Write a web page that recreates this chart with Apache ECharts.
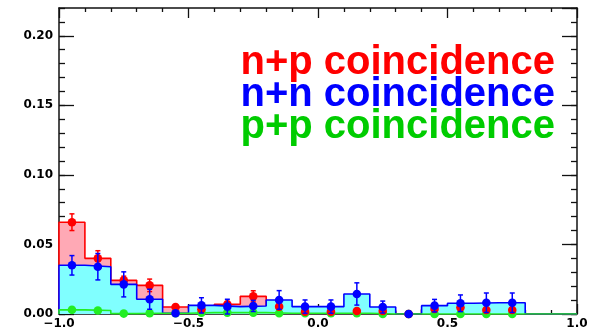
<!DOCTYPE html>
<html>
<head>
<meta charset="utf-8">
<script src="https://cdn.jsdelivr.net/npm/echarts@6/dist/echarts.min.js"></script>
<style>
  html, body { margin: 0; padding: 0; background: #fff; }
  #chart { width: 595px; height: 332px; }
</style>
</head>
<body>
<div id="chart"></div>
<script>
// cos(theta) bin centres (bin width 0.1 over [-1, 1])
const binCenters = [-0.95, -0.85, -0.75, -0.65, -0.55, -0.45, -0.35, -0.25, -0.15, -0.05,
                     0.05,  0.15,  0.25,  0.35,  0.45,  0.55,  0.65,  0.75,  0.85,  0.95];
const binWidth = 0.1;

// normalised yields per bin (null = no marker drawn)
const npValues = [0.066, 0.040, 0.0242, 0.0206, 0.005, 0.0034, 0.007, 0.0127, 0.0053, 0.0017,
                  0.0017, 0.0022, 0.0022, 0, 0.0036, 0.0046, 0.0029, 0.0029, null, null];
const npErrors = [0.006, 0.0055, 0.003, 0.0045, 0.0015, 0.0015, 0.002, 0.004, 0.002, 0.001,
                  0.001, 0.0012, 0.0012, 0, 0.0015, 0.0018, 0.0015, 0.0015, 0, 0];

const nnValues = [0.035, 0.034, 0.0213, 0.0106, 0.0005, 0.0062, 0.0053, 0.0058, 0.0101, 0.0053,
                  0.0053, 0.0144, 0.005, 0, 0.006, 0.0077, 0.0081, 0.0081, null, null];
const nnErrors = [0.007, 0.0095, 0.009, 0.0072, 0.001, 0.0055, 0.0053, 0.004, 0.0067, 0.0048,
                  0.0048, 0.008, 0.0043, 0, 0.0045, 0.006, 0.007, 0.007, 0, 0];

const ppValues = [0.003, 0.0025, 0.0003, 0.0005, 0.0005, 0.001, 0.001, 0.001, 0.0005, 0.0005,
                  0.0005, 0.0005, 0, 0, 0, 0, 0, 0, null, null];
const ppErrors = [0, 0, 0, 0, 0, 0, 0, 0, 0, 0, 0, 0, 0, 0, 0, 0, 0, 0, 0, 0];

const xTickLabels = ['\u22121.0', '\u22120.5', '0.0', '0.5', '1.0'];
const yTickLabels = ['0.00', '0.05', '0.10', '0.15', '0.20'];
const legendLines = ['n+p coincidence', 'n+n coincidence', 'p+p coincidence'];

const RED = '#ff0000', BLUE = '#0000ff', GREEN = '#22ee22', TEXT_GREEN = '#00cc00';
const PINK_FILL = '#ffa9b5', CYAN_FILL = '#80ffff';
const TICK_FONT = 'DejaVu Sans';

// step outline of a histogram as edge points
function histPoints(values) {
  const pts = [[binCenters[0] - binWidth / 2, 0]];
  values.forEach((v, i) => {
    const y = v == null ? 0 : v;
    pts.push([binCenters[i] - binWidth / 2, y]);
    pts.push([binCenters[i] + binWidth / 2, y]);
  });
  pts.push([binCenters[binCenters.length - 1] + binWidth / 2, 0]);
  return pts;
}

function histSeries(name, values, color, fill, z) {
  return {
    type: 'line', name, data: histPoints(values), showSymbol: false, silent: true,
    lineStyle: { color, width: 1.6 },
    areaStyle: fill ? { color: fill, opacity: 1 } : undefined,
    z, animation: false
  };
}

function pointSeries(name, values, errors, color, z) {
  const data = [];
  values.forEach((v, i) => { if (v != null) data.push([binCenters[i], v, errors[i]]); });
  return {
    type: 'custom', name, data, z, animation: false, silent: true,
    renderItem(params, api) {
      const x = api.value(0), v = api.value(1), e = api.value(2);
      const c = api.coord([x, v]);
      const children = [];
      if (e > 0) {
        const hi = api.coord([x, v + e]), lo = api.coord([x, v - e]);
        const st = { stroke: color, lineWidth: 1.5 };
        children.push({ type: 'line', shape: { x1: c[0], y1: hi[1], x2: c[0], y2: lo[1] }, style: st });
        children.push({ type: 'line', shape: { x1: c[0] - 2.5, y1: hi[1], x2: c[0] + 2.5, y2: hi[1] }, style: st });
        children.push({ type: 'line', shape: { x1: c[0] - 2.5, y1: lo[1], x2: c[0] + 2.5, y2: lo[1] }, style: st });
      }
      children.push({ type: 'circle', shape: { cx: c[0], cy: c[1], r: 4.3 }, style: { fill: color } });
      return { type: 'group', children };
    }
  };
}

const xLabelFmt = v => xTickLabels[Math.round((v + 1) / 0.5)] || '';
const yLabelFmt = v => yTickLabels[Math.round(v / 0.05)] || '';

const frameLine = { show: true, onZero: false, lineStyle: { color: '#111', width: 1.5 } };
const noLine = { show: false, onZero: false };
const tickStyle = { color: '#111', width: 1.3 };

const chart = echarts.init(document.getElementById('chart'), null, { renderer: 'canvas' });
chart.setOption({
  animation: false,
  backgroundColor: '#fff',
  grid: { left: 59, right: 18, top: 8, bottom: 18, containLabel: false },
  xAxis: [
    {
      type: 'value', position: 'bottom', min: -1, max: 1, interval: 0.5, z: 0,
      axisLine: frameLine, splitLine: { show: false },
      axisTick: { inside: true, length: 10, lineStyle: tickStyle },
      minorTick: { show: true, splitNumber: 5, length: 4, lineStyle: tickStyle },
      axisLabel: { formatter: xLabelFmt, fontFamily: TICK_FONT, fontWeight: 'bold', fontSize: 12,
                   color: '#000', margin: 4 }
    },
    {
      type: 'value', position: 'top', min: -1, max: 1, interval: 0.5, z: 0,
      axisLine: frameLine, splitLine: { show: false },
      axisTick: { inside: true, length: 10, lineStyle: tickStyle },
      minorTick: { show: true, splitNumber: 5, length: 4, lineStyle: tickStyle },
      axisLabel: { show: false }
    }
  ],
  yAxis: [
    {
      type: 'value', position: 'left', min: 0, max: 0.22, interval: 0.05, z: 0,
      axisLine: frameLine, splitLine: { show: false },
      axisTick: { inside: true, length: 15, lineStyle: tickStyle },
      axisLabel: { formatter: yLabelFmt, fontFamily: TICK_FONT, fontWeight: 'bold', fontSize: 12,
                   color: '#000', margin: 6, showMaxLabel: false }
    },
    {
      type: 'value', position: 'left', min: 0, max: 0.22, interval: 0.01, z: 0,
      axisLine: noLine, splitLine: { show: false },
      axisTick: { inside: true, length: 6, lineStyle: tickStyle },
      axisLabel: { show: false }
    },
    {
      type: 'value', position: 'right', min: 0, max: 0.22, interval: 0.05, z: 0,
      axisLine: frameLine, splitLine: { show: false },
      axisTick: { inside: true, length: 15, lineStyle: tickStyle },
      axisLabel: { show: false }
    },
    {
      type: 'value', position: 'right', min: 0, max: 0.22, interval: 0.01, z: 0,
      axisLine: noLine, splitLine: { show: false },
      axisTick: { inside: true, length: 6, lineStyle: tickStyle },
      axisLabel: { show: false }
    }
  ],
  series: [
    histSeries('n+p', npValues, RED, PINK_FILL, 10),
    histSeries('n+n', nnValues, BLUE, CYAN_FILL, 11),
    histSeries('p+p', ppValues, GREEN, null, 12),
    pointSeries('p+p points', ppValues, ppErrors, GREEN, 13),
    pointSeries('n+p points', npValues, npErrors, RED, 14),
    pointSeries('n+n points', nnValues, nnErrors, BLUE, 15)
  ],
  graphic: legendLines.map((t, i) => ({
    type: 'text', right: 40, top: 43 + i * 32, z: 20,
    style: { text: t, fill: [RED, BLUE, TEXT_GREEN][i], font: 'bold 40px "Liberation Sans"' }
  }))
});
</script>
</body>
</html>
